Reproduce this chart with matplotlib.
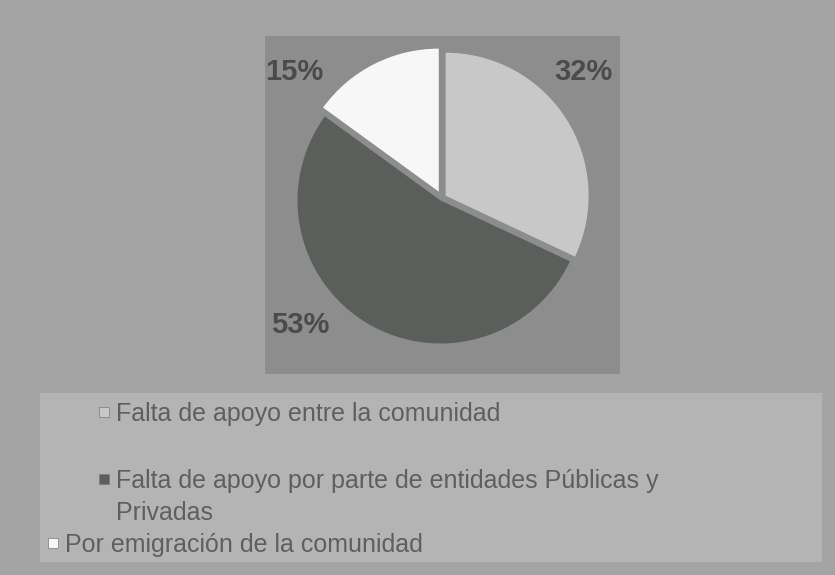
# pie chart: causas (scanned gray figure)

import matplotlib.pyplot as plt
from matplotlib.patches import Rectangle

plt.rcParams["font.family"] = ["Liberation Sans", "DejaVu Sans"]

# Data

labels = [
    "Falta de apoyo entre la comunidad",
    "Falta de apoyo por parte de entidades Públicas y\nPrivadas",
    "Por emigración de la comunidad",
]
values = [32, 53, 15]

colors = ["#c8c8c8", "#5b5f5c", "#f7f7f7"]
explode = [0.03, 0.02, 0.05]

# where the % texts sit (pie radius = 1)
label_pos = [(0.99, 0.88), (-0.99, -0.89), (-1.03, 0.88)]

# legend rows: marker left x, marker centre y (pixels, scan is a bit skewed)
legend_rows = [(99, 412), (99, 479), (48, 543)]

W, H = 835, 575
fig = plt.figure(figsize=(W / 100, H / 100), dpi=100)
fig.patch.set_facecolor("#a3a4a3")


def fbox(x0, y0, x1, y1):
    # pixel box -> figure fraction
    return [x0 / W, 1 - y1 / H, (x1 - x0) / W, (y1 - y0) / H]


# legend panel
lx, ly, lw, lh = fbox(40, 393, 822, 562)
fig.add_artist(Rectangle((lx, ly), lw, lh, transform=fig.transFigure,
                         facecolor="#b3b4b3", edgecolor="none", zorder=0))

# plot area
ax = fig.add_axes(fbox(265, 36, 620, 374))

wedges, _ = ax.pie(
    values,
    colors=colors,
    startangle=90,
    counterclock=False,
    explode=explode,
    radius=1.0,
    wedgeprops=dict(linewidth=0),
)

ax.set_frame_on(True)
ax.set_facecolor("#8c8d8c")
for s in ax.spines.values():
    s.set_visible(False)
ax.set_aspect("auto")
ax.set_xlim(-177 / 143, 178 / 143)
ax.set_ylim(-176 / 143, 162 / 143)

for v, (tx, ty) in zip(values, label_pos):
    ax.text(tx, ty, f"{v}%", ha="center", va="center",
            fontsize=21, fontweight="bold", color="#4a4c4a")

# Legend (drawn by hand to follow the scan)

for lab, col, (mx, my) in zip(labels, colors, legend_rows):
    fig.add_artist(Rectangle((mx / W, 1 - (my + 5) / H), 10 / W, 10 / H,
                             transform=fig.transFigure, facecolor=col,
                             edgecolor="#7a7a7a", linewidth=0.5))
    fig.text((mx + 17) / W, 1 - (my - 10) / H, lab, ha="left", va="top",
             fontsize=18, color="#5e605e", linespacing=1.4)

plt.savefig("out.png", dpi=100, facecolor=fig.get_facecolor())
